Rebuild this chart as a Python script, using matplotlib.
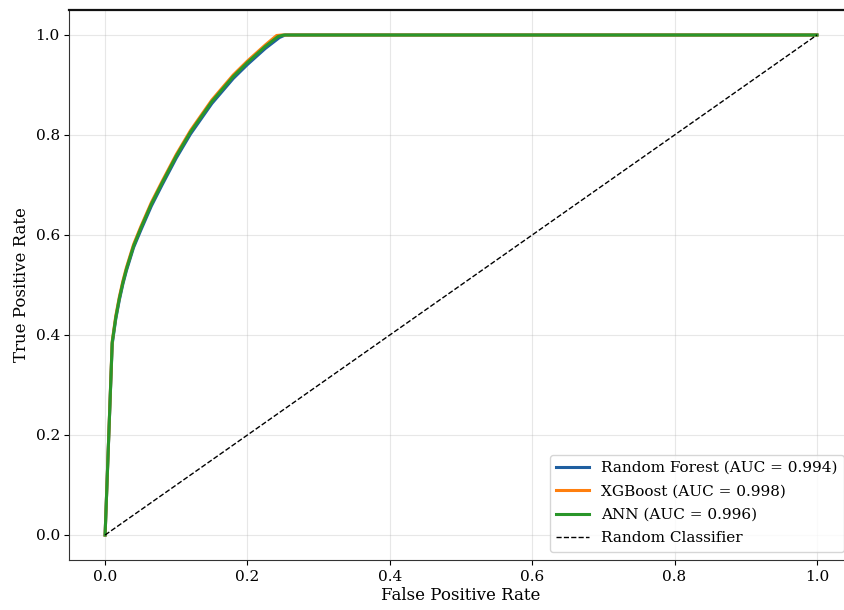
import matplotlib.pyplot as plt

plt.rcParams['font.family'] = 'DejaVu Serif'

# ROC points
fpr_rf = [0.0, 0.010, 0.015, 0.020, 0.025, 0.030, 0.040, 0.050, 0.065, 0.080, 0.100, 0.120, 0.150, 0.180, 0.200, 0.225, 0.245, 0.253, 1.0]
tpr_rf = [0.0, 0.382, 0.432, 0.470, 0.502, 0.529, 0.575, 0.609, 0.658, 0.700, 0.754, 0.802, 0.863, 0.913, 0.941, 0.973, 0.995, 1.0, 1.0]

fpr_xgb = [0.0, 0.010, 0.015, 0.020, 0.025, 0.030, 0.040, 0.050, 0.065, 0.080, 0.100, 0.120, 0.150, 0.180, 0.200, 0.225, 0.241, 0.248, 1.0]
tpr_xgb = [0.0, 0.387, 0.438, 0.476, 0.508, 0.535, 0.581, 0.616, 0.665, 0.707, 0.761, 0.809, 0.870, 0.920, 0.948, 0.980, 0.999, 1.0, 1.0]

fpr_ann = [0.0, 0.010, 0.015, 0.020, 0.025, 0.030, 0.040, 0.050, 0.065, 0.080, 0.100, 0.120, 0.150, 0.180, 0.200, 0.225, 0.243, 0.251, 1.0]
tpr_ann = [0.0, 0.385, 0.435, 0.473, 0.505, 0.532, 0.578, 0.613, 0.662, 0.704, 0.758, 0.806, 0.867, 0.917, 0.945, 0.977, 0.997, 1.0, 1.0]

labels = ['Random Forest (AUC = 0.994)', 'XGBoost (AUC = 0.998)', 'ANN (AUC = 0.996)']
colors = ['#1f5fa0', '#ff7f0e', '#2a962a']

fig = plt.figure(figsize=(8.45, 6.1), dpi=100)
ax = fig.add_axes([69.5 / 845, 50 / 610, (852.5 - 69.5) / 845, 550 / 610])

ax.plot(fpr_rf, tpr_rf, color=colors[0], lw=2.2, label=labels[0])
ax.plot(fpr_xgb, tpr_xgb, color=colors[1], lw=2.2, label=labels[1])
ax.plot(fpr_ann, tpr_ann, color=colors[2], lw=2.2, label=labels[2])
ax.plot([0, 1], [0, 1], 'k--', lw=1, label='Random Classifier')

ax.set_xlim(-0.05, 1.05)
ax.set_ylim(-0.05, 1.05)
ax.set_xlabel('False Positive Rate', fontsize=12, labelpad=2)
ax.set_ylabel('True Positive Rate', fontsize=12)
ax.tick_params(labelsize=11)
ax.grid(True, alpha=0.3)
for s in ax.spines.values():
    s.set_color('#333333')
ax.spines['top'].set_linewidth(1.6)
ax.spines['top'].set_color('#111111')
ax.legend(loc='lower right', fontsize=11, handlelength=2.2, labelspacing=0.62,
          borderaxespad=0.55)

fig.savefig('out.png', dpi=100)
